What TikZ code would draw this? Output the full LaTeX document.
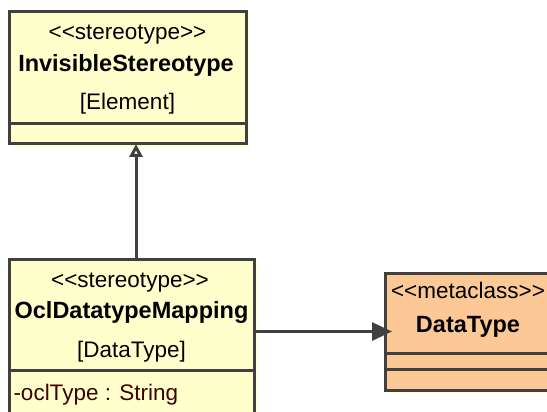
\documentclass[tikz,border=0pt]{standalone}
\usepackage{fontspec}
\setmainfont{Liberation Sans}
\usetikzlibrary{backgrounds}
\usetikzlibrary{positioning}
\usetikzlibrary{arrows.meta}
\definecolor{umlyellow}{RGB}{255,255,204}
\definecolor{umlorange}{RGB}{252,200,150}
\definecolor{umlline}{RGB}{64,64,64}
\definecolor{umlshadow}{RGB}{255,255,222}
\definecolor{attrred}{RGB}{64,0,0}

\begin{document}
\begin{tikzpicture}[
            x = 1pt, y = -1pt, % pixel like units, y going down
            line width = 3pt, % line style
            font = \fontsize{22.5}{26}\selectfont
            ]

        \tikzstyle{classbox}=[
            draw = umlline,
            fill = umlyellow,
            rectangle,
            inner sep = 0pt,
            outer sep = 0pt
        ]
        \tikzstyle{label}=[inner sep = 0pt, anchor = base]
        \tikzstyle{classname}=[label, font = \fontsize{23.5}{26}\selectfont\bfseries]
        \tikzstyle{gen}=[draw = umlline, -{Triangle[open, length=13pt, width=13pt, fill=white]}]
        \tikzstyle{assoc}=[draw = umlline, -{Triangle[length=20pt, width=18pt]}, shorten > = -7pt]

        \useasboundingbox (0,0) rectangle (547,412);
        \clip (0,0) rectangle (547,412);

	% classes
	\node[classbox, minimum width = 237pt, minimum height = 132pt] (IS) at (127.5,78) {};
	\node[classbox, minimum width = 245pt, minimum height = 166pt] (OM) at (131.5,342) {};
	\node[classbox, fill = umlorange, minimum width = 200pt, minimum height = 117pt] (DT) at (485,331.5) {};

	% compartments
	\draw[umlline] (IS.west |- 0,124) -- (IS.east |- 0,124);
	\draw[umlline] (OM.west |- 0,370) -- (OM.east |- 0,370);
	\draw[umlline] (DT.west |- 0,353) -- (DT.east |- 0,353);
	\draw[umlline] (DT.west |- 0,369) -- (DT.east |- 0,369);

	% texts
	\node[label] (IS-st) at (127.5,40) {{<}{<}stereotype{>}{>}};
	\node[classname] (IS-name) at (126,72) {InvisibleStereotype};
	\node[label] (IS-base) at (127.5,110) {[Element]};

	\node[label] (OM-st) at (130,287) {{<}{<}stereotype{>}{>}};
	\node[classname] (OM-name) at (131.5,318) {OclDatatypeMapping};
	\node[label] (OM-base) at (131.5,357) {[DataType]};
	\node[label, anchor = base west, text = attrred] (OM-attr) at (12,400) {-oclType : String};

	\node[label] (DT-st) at (468,298) {{<}{<}metaclass{>}{>}};
	\node[classname] (DT-name) at (468,332) {DataType};

	% connectors
	\draw[gen] ([xshift = 4.5pt]OM.north) -- ([xshift = 4.5pt]OM.north |- IS.south);
	\draw[assoc] (OM.east |- DT.west) -- (DT.west);

          \begin{scope}[on background layer]
   \fill[umlshadow] ([shift = {(4,4)}]IS.north west) rectangle ([shift = {(4,4)}]IS.south east);
   \fill[umlshadow] ([shift = {(4,4)}]OM.north west) rectangle ([shift = {(4,4)}]OM.south east);
   \fill[umlshadow] ([shift = {(4,4)}]DT.north west) rectangle ([shift = {(4,4)}]DT.south east);
  \end{scope}

  \end{tikzpicture}
\end{document}
